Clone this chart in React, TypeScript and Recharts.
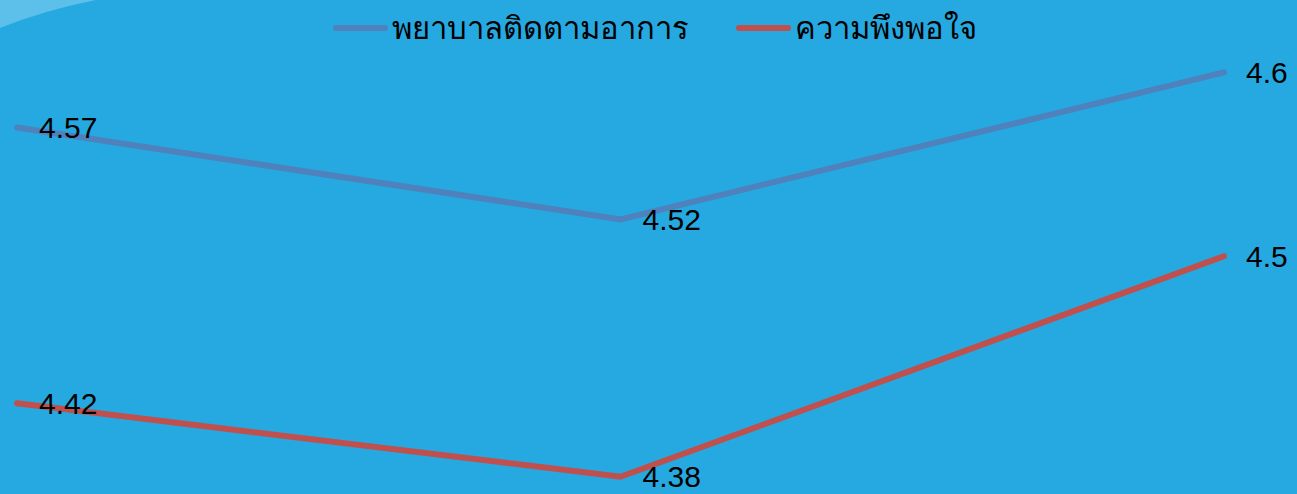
import { LineChart, Line, XAxis, YAxis, LabelList } from "recharts";

// categories and values
const categories = ["ช่วง 1", "ช่วง 2", "ช่วง 3"];
const followUpValues = [4.57, 4.52, 4.6];
const satisfactionValues = [4.42, 4.38, 4.5];

const seriesNames = ["พยาบาลติดตามอาการ", "ความพึงพอใจ"];
const seriesColors = ["#4F81BD", "#C0504D"];

const data = categories.map((c, i) => ({
  name: c,
  followUp: followUpValues[i],
  satisfaction: satisfactionValues[i],
}));

const FONT = "'Liberation Sans', Arial, sans-serif";

// value label to the right of each point, vertically centred
function PointLabel(props: any) {
  const { x, y, value } = props;
  return (
    <text
      x={x + 22}
      y={y}
      dominantBaseline="central"
      textAnchor="start"
      fontSize={30}
      fontFamily={FONT}
      fill="#000"
    >
      {value}
    </text>
  );
}

// legend drawn over the chart so it does not shrink the plot area
function ChartLegend() {
  return (
    <div
      style={{
        position: "absolute",
        left: 333,
        top: 10,
        height: 36,
        display: "flex",
        alignItems: "center",
        gap: 47,
        fontFamily: FONT,
        fontSize: 31,
        color: "#000",
        whiteSpace: "nowrap",
      }}
    >
      {seriesNames.map((n, i) => (
        <div key={n} style={{ display: "flex", alignItems: "center" }}>
          <span
            style={{
              display: "inline-block",
              width: 55,
              height: 6,
              borderRadius: 3,
              background: seriesColors[i],
              marginRight: 4,
            }}
          />
          <span>{n}</span>
        </div>
      ))}
    </div>
  );
}

export default function App() {
  return (
    <div
      style={{
        position: "absolute",
        left: 0,
        top: 0,
        width: 1297,
        height: 494,
        background: "#25A9E0",
        overflow: "hidden",
      }}
    >
      <svg
        width={1297}
        height={494}
        style={{ position: "absolute", left: 0, top: 0 }}
      >
        <path d="M0,0 L96,0 Q45,10 0,28 Z" fill="#5DC0EA" />
      </svg>
      <div style={{ position: "absolute", left: 0, top: 0 }}>
        <LineChart
          width={1297}
          height={494}
          data={data}
          margin={{ top: 54, right: 73, bottom: 8, left: 17 }}
        >
          <XAxis dataKey="name" hide padding={{ left: 0, right: 0 }} />
          <YAxis hide domain={[4.375, 4.61]} allowDataOverflow />
          <Line
            dataKey="followUp"
            name={seriesNames[0]}
            stroke={seriesColors[0]}
            strokeWidth={6}
            strokeLinecap="round"
            dot={false}
            isAnimationActive={false}
          >
            <LabelList dataKey="followUp" content={<PointLabel />} />
          </Line>
          <Line
            dataKey="satisfaction"
            name={seriesNames[1]}
            stroke={seriesColors[1]}
            strokeWidth={6}
            strokeLinecap="round"
            dot={false}
            isAnimationActive={false}
          >
            <LabelList dataKey="satisfaction" content={<PointLabel />} />
          </Line>
        </LineChart>
      </div>
      <ChartLegend />
    </div>
  );
}
